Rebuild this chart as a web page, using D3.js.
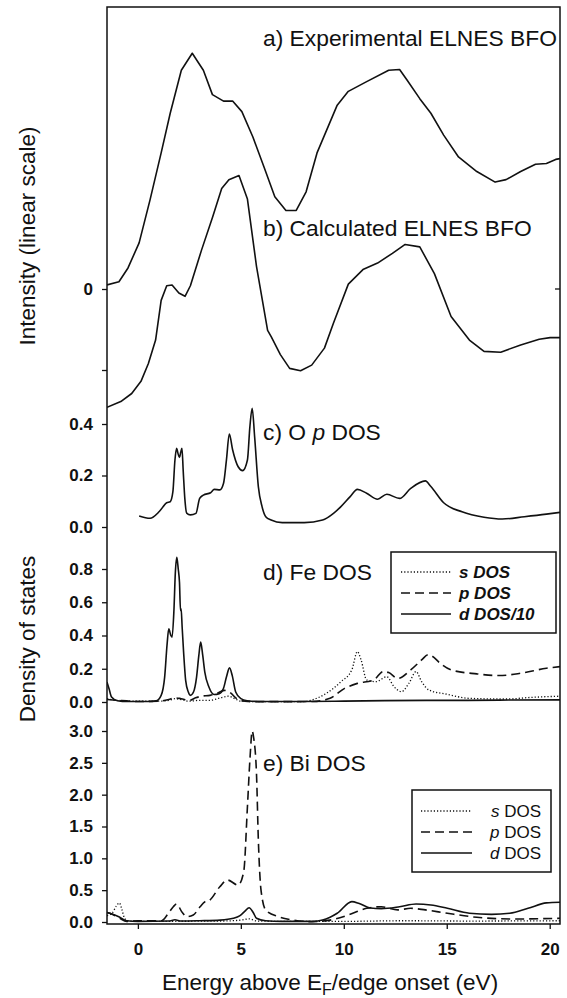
<!DOCTYPE html>
<html>
<head>
<meta charset="utf-8">
<script src="https://cdn.jsdelivr.net/npm/d3@7"></script>
<style>
  body { margin: 0; background: #fff; }
  svg { display: block; font-family: "Liberation Sans", Arial, sans-serif; }
</style>
</head>
<body>
<script>
// ---- data ----
var xTicks = [0, 5, 10, 15, 20];

// a) experimental ELNES (arbitrary intensity units)
var expE = [-1.5, -0.92, -0.48, 0.06, 0.59, 1.13, 1.57, 2.11, 2.64, 3.18, 3.62, 4.16, 4.6, 5.05, 5.58, 6.12, 6.65, 7.19, 7.69, 8.17, 8.7, 9.68, 10.22, 11.11, 12.18, 12.71, 13.07, 13.69, 14.23, 14.85, 15.57, 16.46, 17.35, 17.88, 18.59, 19.31, 19.84, 20.29, 20.5];
var expI = [0.05, 0.09, 0.26, 0.57, 1.10, 1.68, 2.17, 2.70, 2.91, 2.70, 2.40, 2.32, 2.32, 2.19, 1.88, 1.51, 1.14, 0.97, 0.97, 1.20, 1.68, 2.27, 2.44, 2.56, 2.70, 2.71, 2.58, 2.35, 2.17, 1.90, 1.63, 1.45, 1.32, 1.35, 1.45, 1.54, 1.55, 1.60, 1.61];

// b) calculated ELNES
var calcE = [-1.5, -0.83, -0.3, 0.15, 0.51, 0.86, 1.13, 1.4, 1.66, 1.99, 2.29, 2.55, 3.09, 3.63, 4.07, 4.42, 4.91, 5.32, 5.76, 6.3, 6.48, 6.92, 7.37, 7.9, 8.44, 9.06, 9.5, 10.22, 10.93, 11.64, 12.36, 12.98, 13.69, 14.4, 15.21, 16.1, 16.81, 17.62, 18.59, 19.49, 20.02, 20.5];
var calcI = [-1.46, -1.39, -1.29, -1.14, -0.92, -0.63, -0.14, 0.04, 0.05, -0.05, -0.09, 0.04, 0.48, 0.89, 1.24, 1.35, 1.40, 1.11, 0.28, -0.51, -0.59, -0.81, -0.98, -1.01, -0.94, -0.73, -0.42, 0.06, 0.24, 0.32, 0.44, 0.55, 0.52, 0.19, -0.34, -0.63, -0.77, -0.78, -0.69, -0.62, -0.60, -0.60];
var intTicks = [0, -1];
var intTickLabels = ["0", ""];

// c) O p DOS
var oE = [0.06, 0.59, 1.04, 1.4, 1.57, 1.7, 1.8, 1.88, 1.95, 2.02, 2.08, 2.14, 2.2, 2.28, 2.37, 2.55, 2.82, 3.0, 3.18, 3.53, 3.71, 3.98, 4.16, 4.3, 4.44, 4.6, 4.87, 5.09, 5.32, 5.44, 5.55, 5.67, 5.85, 6.03, 6.21, 6.47, 7.01, 8.08, 8.97, 9.5, 9.86, 10.31, 10.66, 11.11, 11.64, 12.09, 12.71, 13.25, 13.96, 14.23, 14.85, 15.74, 16.81, 17.7, 18.77, 19.84, 20.5];
var oV = [0.043, 0.034, 0.06, 0.094, 0.098, 0.137, 0.26, 0.306, 0.285, 0.27, 0.29, 0.306, 0.22, 0.11, 0.054, 0.047, 0.053, 0.111, 0.124, 0.133, 0.146, 0.144, 0.17, 0.26, 0.361, 0.30, 0.234, 0.219, 0.26, 0.39, 0.461, 0.35, 0.157, 0.079, 0.04, 0.027, 0.017, 0.017, 0.027, 0.053, 0.079, 0.118, 0.146, 0.131, 0.108, 0.127, 0.111, 0.15, 0.179, 0.157, 0.094, 0.059, 0.038, 0.031, 0.04, 0.05, 0.057];
var oTicks = [0, 0.2, 0.4];

// d) Fe DOS
var feSE = [-1.5, -1.0, 0, 1.0, 1.5, 1.8, 2.1, 2.5, 3.0, 3.5, 4.0, 4.4, 4.7, 5.0, 6, 8, 8.44, 9.15, 9.86, 10.39, 10.66, 10.84, 11.11, 11.56, 12.09, 12.44, 12.8, 13.16, 13.51, 13.78, 14.14, 15.03, 16.1, 17.88, 19.13, 20.5];
var feSV = [0.02, 0.01, 0.005, 0.005, 0.01, 0.02, 0.015, 0.005, 0.01, 0.01, 0.025, 0.035, 0.02, 0.005, 0.002, 0.002, 0.012, 0.052, 0.122, 0.193, 0.303, 0.253, 0.133, 0.122, 0.152, 0.092, 0.062, 0.112, 0.183, 0.122, 0.072, 0.046, 0.022, 0.018, 0.028, 0.035];
var fePE = [-1.5, -1, 0, 1.0, 1.5, 1.8, 2.1, 2.5, 2.8, 3.1, 3.5, 3.8, 4.2, 4.5, 4.8, 5.2, 6, 8.5, 9.33, 10.04, 10.66, 11.46, 11.91, 12.18, 12.62, 13.25, 13.78, 14.1, 14.3, 14.68, 15.21, 16.46, 17.53, 18.59, 19.84, 20.5];
var fePV = [0.015, 0.01, 0.003, 0.005, 0.015, 0.025, 0.02, 0.01, 0.025, 0.035, 0.04, 0.05, 0.07, 0.055, 0.02, 0.005, 0.002, 0.003, 0.022, 0.082, 0.112, 0.133, 0.183, 0.177, 0.142, 0.193, 0.253, 0.285, 0.275, 0.233, 0.193, 0.169, 0.159, 0.173, 0.203, 0.213];
var feDE = [-1.5, -1.4, -1.28, -1.0, -0.5, 0.5, 0.9, 1.13, 1.3, 1.42, 1.5, 1.6, 1.66, 1.75, 1.82, 1.89, 1.96, 2.02, 2.07, 2.1, 2.15, 2.22, 2.32, 2.45, 2.55, 2.7, 2.85, 2.96, 3.05, 3.15, 3.25, 3.45, 3.7, 3.95, 4.15, 4.3, 4.45, 4.58, 4.75, 5.0, 5.3, 6, 8, 10, 12, 14, 16, 18, 20.5];
var feDV = [0.12, 0.08, 0.03, 0.008, 0.003, 0.003, 0.008, 0.04, 0.15, 0.35, 0.44, 0.40, 0.39, 0.55, 0.78, 0.87, 0.80, 0.72, 0.55, 0.56, 0.45, 0.30, 0.13, 0.06, 0.04, 0.06, 0.15, 0.28, 0.36, 0.28, 0.18, 0.09, 0.045, 0.05, 0.08, 0.15, 0.205, 0.16, 0.06, 0.02, 0.008, 0.003, 0.003, 0.005, 0.008, 0.01, 0.01, 0.012, 0.013];
var feTicks = [0, 0.2, 0.4, 0.6, 0.8];
var feLegend = ["s DOS", "p DOS", "d DOS/10"];

// e) Bi DOS
var biSE = [-1.5, -1.25, -1.05, -0.9, -0.78, -0.65, -0.5, 0, 4, 5.0, 5.4, 5.8, 7, 10, 13, 16, 20.5];
var biSV = [0.1, 0.14, 0.25, 0.3, 0.2, 0.06, 0.02, 0.01, 0.015, 0.03, 0.05, 0.015, 0.01, 0.01, 0.02, 0.015, 0.02];
var biPE = [-1.5, -1.36, -0.88, -0.55, 0, 1.15, 1.48, 1.72, 1.88, 2.13, 2.37, 2.69, 3.02, 3.26, 3.45, 3.98, 4.34, 4.87, 5.14, 5.32, 5.45, 5.55, 5.62, 5.76, 5.85, 5.98, 6.21, 6.83, 7.54, 8.44, 9.33, 10.22, 11.11, 11.82, 12.62, 13.25, 13.96, 15.03, 16.46, 18.24, 20.5];
var biPV = [0.15, 0.137, 0.058, 0.01, 0.02, 0.02, 0.137, 0.24, 0.283, 0.162, 0.083, 0.11, 0.24, 0.319, 0.334, 0.554, 0.66, 0.58, 0.79, 1.81, 2.6, 3.0, 2.9, 2.33, 1.29, 0.5, 0.188, 0.083, 0.031, 0.005, 0.03, 0.11, 0.215, 0.24, 0.19, 0.215, 0.19, 0.137, 0.074, 0.047, 0.058];
var biDE = [-1.5, -1.36, -0.9, -0.55, 0, 1.5, 1.8, 2.1, 3, 4, 4.64, 4.96, 5.2, 5.4, 5.6, 5.76, 6.2, 7, 8.5, 8.97, 9.68, 10.39, 10.75, 11.29, 11.82, 12.71, 13.51, 14.23, 15.03, 16.1, 17.17, 18.06, 18.95, 19.84, 20.5];
var biDV = [0.15, 0.137, 0.08, 0.02, 0.01, 0.015, 0.035, 0.015, 0.02, 0.03, 0.058, 0.1, 0.17, 0.225, 0.15, 0.058, 0.02, 0.01, 0.01, 0.03, 0.137, 0.32, 0.29, 0.22, 0.21, 0.24, 0.283, 0.267, 0.215, 0.137, 0.12, 0.137, 0.215, 0.30, 0.31];
var biTicks = [0, 0.5, 1.0, 1.5, 2.0, 2.5, 3.0];
var biLegend = ["s", "p", "d"];

var panelLabels = ["a) Experimental ELNES BFO", "b) Calculated ELNES BFO", "e) Bi DOS"];

// ---- layout ----
var W = 567, H = 998;
var frame = {left: 107, right: 560, top: 7, bottom: 924};
var FONT = '"Liberation Sans", Arial, sans-serif';

var svg = d3.select("body").append("svg").attr("width", W).attr("height", H);

var x = d3.scaleLinear().domain([-1.5, 20.5]).range([frame.left, frame.right]);

// one y scale per stacked panel
var yInt = d3.scaleLinear().domain([-1, 0]).range([370, 289]);
var yO = d3.scaleLinear().domain([0, 0.4]).range([527, 424]);
var yFe = d3.scaleLinear().domain([0, 0.8]).range([702, 569]);
var yBi = d3.scaleLinear().domain([0, 3.0]).range([922, 731]);

svg.append("defs").append("clipPath").attr("id", "plotclip")
	.append("rect")
	.attr("x", frame.left).attr("y", frame.top)
	.attr("width", frame.right - frame.left).attr("height", frame.bottom - frame.top);

var plot = svg.append("g").attr("clip-path", "url(#plotclip)");

var pairs = function(xs, ys){ return xs.map(function(d, i){ return [d, ys[i]]; }); };

var drawCurve = function(xs, ys, yScale, dash, smooth){
	var line = d3.line()
		.x(function(d){ return x(d[0]); })
		.y(function(d){ return yScale(d[1]); })
		.curve(smooth ? d3.curveMonotoneX : d3.curveLinear);
	plot.append("path")
		.attr("d", line(pairs(xs, ys)))
		.attr("fill", "none")
		.attr("stroke", "#111")
		.attr("stroke-width", dash == "dot" ? 1.3 : 1.6)
		.attr("stroke-dasharray", dash == "dot" ? "1.2,2" : dash == "dash" ? "9,5" : null)
		.attr("stroke-linejoin", "round");
};

drawCurve(expE, expI, yInt, null, false);
drawCurve(calcE, calcI, yInt, null, false);
drawCurve(oE, oV, yO, null, true);
drawCurve(feSE, feSV, yFe, "dot", true);
drawCurve(fePE, fePV, yFe, "dash", true);
drawCurve(feDE, feDV, yFe, null, true);
drawCurve(biSE, biSV, yBi, "dot", true);
drawCurve(biPE, biPV, yBi, "dash", true);
drawCurve(biDE, biDV, yBi, null, true);

// frame
svg.append("rect")
	.attr("x", frame.left).attr("y", frame.top)
	.attr("width", frame.right - frame.left).attr("height", frame.bottom - frame.top)
	.attr("fill", "none").attr("stroke", "#111").attr("stroke-width", 1.5);

// axes
var styleAxis = function(g, size){
	g.select(".domain").remove();
	g.selectAll(".tick line").attr("stroke", "#111").attr("stroke-width", 1.3);
	g.selectAll(".tick text")
		.attr("fill", "#111")
		.style("font-family", FONT)
		.style("font-size", size + "px")
		.style("font-weight", "bold");
};

var leftAxis = function(scale, ticks, fmt){
	var g = svg.append("g").attr("transform", "translate(" + frame.left + ",0)")
		.call(d3.axisLeft(scale).tickValues(ticks).tickSize(5).tickPadding(9).tickFormat(fmt));
	styleAxis(g, 17);
};

leftAxis(yInt, intTicks, function(d, i){ return intTickLabels[i]; });
leftAxis(yO, oTicks, d3.format(".1f"));
leftAxis(yFe, feTicks, d3.format(".1f"));
leftAxis(yBi, biTicks, d3.format(".1f"));

// small mirrored tick on the right at intensity 0
svg.append("line")
	.attr("x1", frame.right).attr("x2", frame.right - 5)
	.attr("y1", yInt(0)).attr("y2", yInt(0))
	.attr("stroke", "#111").attr("stroke-width", 1.3);

var gx = svg.append("g").attr("transform", "translate(0," + frame.bottom + ")")
	.call(d3.axisBottom(x).tickValues(xTicks).tickSize(5).tickPadding(14).tickFormat(d3.format("d")));
styleAxis(gx, 17);

// axis titles
svg.append("text")
	.attr("transform", "translate(35,236) rotate(-90)")
	.attr("text-anchor", "middle")
	.style("font-family", FONT).style("font-size", "22.5px").attr("fill", "#111")
	.text("Intensity (linear scale)");

svg.append("text")
	.attr("transform", "translate(35,639) rotate(-90)")
	.attr("text-anchor", "middle")
	.style("font-family", FONT).style("font-size", "22.5px").attr("fill", "#111")
	.text("Density of states");

var xt = svg.append("text")
	.attr("x", 330).attr("y", 990)
	.attr("text-anchor", "middle")
	.style("font-family", FONT).style("font-size", "22.5px").attr("fill", "#111");
xt.append("tspan").text("Energy above E");
xt.append("tspan").attr("dy", 5).style("font-size", "16px").text("F");
xt.append("tspan").attr("dy", -5).text("/edge onset (eV)");

// panel labels
var label = function(txt, yy){
	return svg.append("text")
		.attr("x", 263).attr("y", yy)
		.style("font-family", FONT).style("font-size", "22.8px").attr("fill", "#111")
		.text(txt);
};
label(panelLabels[0], 46);
label(panelLabels[1], 236);
var lc = label("c) O ", 440);
lc.append("tspan").style("font-style", "italic").text("p");
lc.append("tspan").text(" DOS");
label("d) Fe DOS", 580);
label(panelLabels[2], 771);

// legends
var dashes = ["1.2,2", "9,5", null];

var feBox = svg.append("g");
feBox.append("rect").attr("x", 391).attr("y", 552).attr("width", 165).attr("height", 81)
	.attr("fill", "#fff").attr("stroke", "#111").attr("stroke-width", 1.5);
feLegend.forEach(function(t, i){
	var yy = 572 + i * 21;
	feBox.append("line").attr("x1", 401).attr("x2", 451).attr("y1", yy).attr("y2", yy)
		.attr("stroke", "#111").attr("stroke-width", 1.5).attr("stroke-dasharray", dashes[i]);
	feBox.append("text").attr("x", 459).attr("y", yy + 6)
		.style("font-family", FONT).style("font-size", "17px")
		.style("font-weight", "bold").style("font-style", "italic")
		.attr("fill", "#111").text(t);
});

var biBox = svg.append("g");
biBox.append("rect").attr("x", 412).attr("y", 790).attr("width", 139).attr("height", 82)
	.attr("fill", "#fff").attr("stroke", "#111").attr("stroke-width", 1.5);
biLegend.forEach(function(t, i){
	var yy = 811 + i * 21;
	biBox.append("line").attr("x1", 421).attr("x2", 472).attr("y1", yy).attr("y2", yy)
		.attr("stroke", "#111").attr("stroke-width", 1.3).attr("stroke-dasharray", dashes[i]);
	var tx = biBox.append("text").attr("x", 541).attr("y", yy + 6)
		.attr("text-anchor", "end")
		.style("font-family", FONT).style("font-size", "17px").attr("fill", "#111");
	tx.append("tspan").style("font-style", "italic").text(t);
	tx.append("tspan").text(" DOS");
});
</script>
</body>
</html>
